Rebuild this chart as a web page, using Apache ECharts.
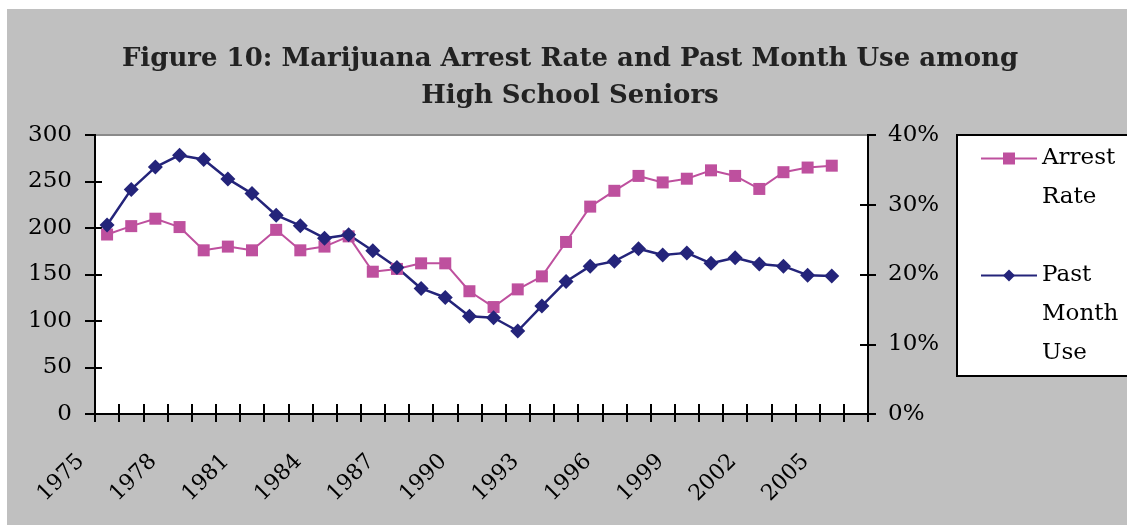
<!DOCTYPE html>
<html style="height: 100%">
<head>
<meta charset="utf-8">
</head>
<body style="height: 100%; margin: 0; background: #fff">
	<div id="backdrop" style="position: absolute; left: 7px; top: 9px; width: 1120px; height: 516px; background: #c0c0c0"></div>
	<div id="plotbg" style="position: absolute; left: 95px; top: 135px; width: 773px; height: 279px; background: #fff"></div>
	<div id="container" style="position: absolute; left: 0; top: 0; width: 1127px; height: 525px"></div>
	<script type="text/javascript" src="https://cdn.jsdelivr.net/npm/echarts@6/dist/echarts.min.js"></script>
	<script type="text/javascript">
		// categories (last one is an empty slot, as in the original chart)
		var years = ['1975', '1976', '1977', '1978', '1979', '1980', '1981', '1982', '1983', '1984',
			'1985', '1986', '1987', '1988', '1989', '1990', '1991', '1992', '1993', '1994',
			'1995', '1996', '1997', '1998', '1999', '2000', '2001', '2002', '2003', '2004',
			'2005', '2006'];
		// arrests per 100,000 (left axis)
		var arrestRate = [193, 202, 210, 201, 176, 180, 176, 198, 176, 180,
			191, 153, 156, 162, 162, 132, 115, 134, 148, 185,
			223, 240, 256, 249, 253, 262, 256, 242, 260, 265, 267];
		// past month use among seniors (right axis, share)
		var pastMonthUse = [0.271, 0.322, 0.354, 0.371, 0.365, 0.337, 0.316, 0.285, 0.270, 0.252,
			0.257, 0.234, 0.210, 0.180, 0.167, 0.140, 0.138, 0.119, 0.155, 0.190,
			0.212, 0.219, 0.237, 0.228, 0.231, 0.216, 0.224, 0.215, 0.212, 0.199, 0.198];
		var leftTicks = [0, 300, 50];
		var rightTicks = [0, 0.4, 0.1];
		var legendNames = {
			'Arrest Rate': '\nArrest\nRate',
			'Past Month Use': '\n\nPast\nMonth\nUse'
		};

		var font = 'DejaVu Serif';
		var pink = '#be509e';
		var navy = '#24247a';
		var tickStyle = { color: '#000', width: 2 };
		var plot = { left: 95, right: 259, top: 135, bottom: 111 };

		var dom = document.getElementById("container");
		var myChart = echarts.init(dom);
		// white plot area is the #plotbg div (a grid background would hide the inner ticks);
		// axes are pulled inward by "offset" with longer ticks, so ticks cross the frame
		var option = {
			title: {
				text: 'Figure 10: Marijuana Arrest Rate and Past Month Use among\nHigh School Seniors',
				left: 565,
				top: 36,
				textAlign: 'center',
				textStyle: { fontFamily: font, fontWeight: 'bold', fontSize: 26, lineHeight: 37, color: '#222' }
			},
			legend: {
				orient: 'vertical',
				left: 975,
				top: 95,
				itemWidth: 56,
				itemHeight: 15,
				itemGap: -39,
				formatter: function (name) { return legendNames[name]; },
				textStyle: { fontFamily: font, fontSize: 23, lineHeight: 39, color: '#000' }
			},
			graphic: [{
				type: 'rect',
				z: 0,
				shape: { x: 957, y: 135, width: 190, height: 241 },
				style: { fill: '#fff', stroke: '#000', lineWidth: 2 }
			}, {
				// top edge of the plot frame is grey, not black
				type: 'line',
				z: 10,
				shape: { x1: plot.left + 1, y1: plot.top, x2: 1127 - plot.right - 1, y2: plot.top },
				style: { stroke: '#8a8a8a', lineWidth: 2 }
			}],
			grid: Object.assign({
				show: true, backgroundColor: 'transparent', borderColor: '#000', borderWidth: 2
			}, plot),
			xAxis: {
				type: 'category',
				data: years,
				boundaryGap: true,
				offset: -10,
				axisLine: { show: false, onZero: false },
				axisTick: { show: true, interval: 0, length: 18, lineStyle: tickStyle },
				axisLabel: {
					interval: 2, rotate: 45, margin: 28, padding: [0, 37, 0, 0],
					fontFamily: font, fontSize: 22, color: '#000'
				}
			},
			yAxis: [{
				type: 'value',
				position: 'left',
				offset: -7,
				min: leftTicks[0], max: leftTicks[1], interval: leftTicks[2],
				splitLine: { show: false },
				axisLine: { show: false },
				axisTick: { show: true, length: 17, lineStyle: tickStyle },
				axisLabel: { margin: 30, fontFamily: font, fontSize: 23, color: '#000' }
			}, {
				type: 'value',
				position: 'right',
				offset: -8,
				min: rightTicks[0], max: rightTicks[1], interval: rightTicks[2],
				splitLine: { show: false },
				axisLine: { show: false },
				axisTick: { show: true, length: 16, lineStyle: tickStyle },
				axisLabel: {
					margin: 28, fontFamily: font, fontSize: 23, color: '#000',
					formatter: function (v) { return Math.round(v * 100) + '%'; }
				}
			}],
			series: [{
				name: 'Arrest Rate',
				type: 'line',
				data: arrestRate,
				yAxisIndex: 0,
				symbol: 'rect',
				symbolSize: 12,
				lineStyle: { color: pink, width: 2 },
				itemStyle: { color: pink },
				animation: false
			}, {
				name: 'Past Month Use',
				type: 'line',
				data: pastMonthUse,
				yAxisIndex: 1,
				symbol: 'diamond',
				symbolSize: 15,
				lineStyle: { color: navy, width: 2.5 },
				itemStyle: { color: navy },
				animation: false
			}]
		};
		if (option && typeof option === "object") {
			myChart.setOption(option, true);
		}
	</script>
</body>
</html>
